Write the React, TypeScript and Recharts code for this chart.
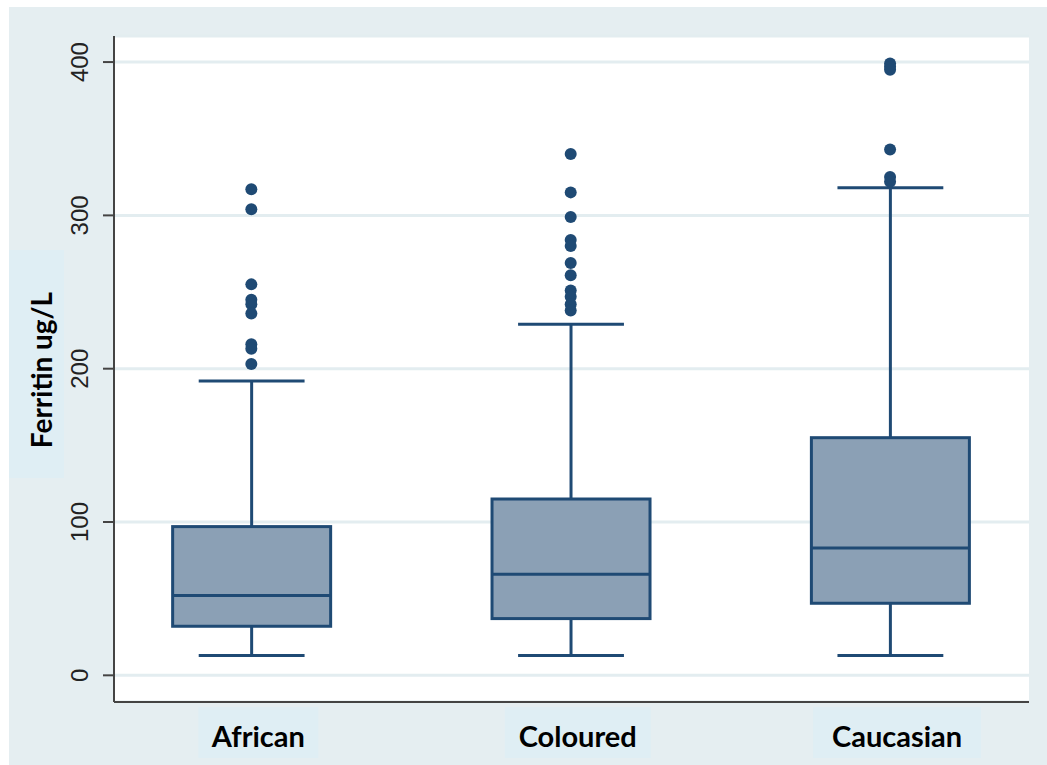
import React from "react";
import {
  ComposedChart,
  Bar,
  Scatter,
  XAxis,
  YAxis,
  CartesianGrid,
} from "recharts";

const categories = ["African", "Coloured", "Caucasian"];
const whiskerLow = [13, 13, 13];
const quartile1 = [32, 37, 47];
const medians = [52, 66, 83];
const quartile3 = [97, 115, 155];
const whiskerHigh = [192, 229, 318];

const africanOutliers = [317, 304, 255, 245, 242, 236, 216, 213, 203];
const colouredOutliers = [340, 315, 299, 284, 280, 269, 261, 251, 247, 242, 238];
const caucasianOutliers = [399, 397, 395, 343, 325, 322];

const yTicks = [0, 100, 200, 300, 400];

const rows = categories.map((name, i) => ({
  x: i + 1,
  name,
  min: whiskerLow[i],
  q1: quartile1[i],
  median: medians[i],
  q3: quartile3[i],
  max: whiskerHigh[i],
}));

const outliers = [africanOutliers, colouredOutliers, caucasianOutliers].flatMap(
  (vals, i) => vals.map((v) => ({ x: i + 1, y: v }))
);

const NAVY = "#1f4a74";
const FILL = "#8ba0b5";

const BoxShape = (props: any) => {
  const { x, y, width, height, payload } = props;
  const top = Math.min(y, y + height);
  const bottom = Math.max(y, y + height);
  const span = payload.max - payload.min;
  const pix = (v: number) => bottom - ((v - payload.min) / span) * (bottom - top);
  const cx = x + width / 2;
  const cap = width * 0.335;
  return (
    <g stroke={NAVY} strokeWidth={3}>
      <line x1={cx} x2={cx} y1={pix(payload.max)} y2={pix(payload.q3)} />
      <line x1={cx} x2={cx} y1={pix(payload.q1)} y2={pix(payload.min)} />
      <line x1={cx - cap} x2={cx + cap} y1={pix(payload.max)} y2={pix(payload.max)} />
      <line x1={cx - cap} x2={cx + cap} y1={pix(payload.min)} y2={pix(payload.min)} />
      <rect
        x={x}
        y={pix(payload.q3)}
        width={width}
        height={pix(payload.q1) - pix(payload.q3)}
        fill={FILL}
      />
      <line x1={x} x2={x + width} y1={pix(payload.median)} y2={pix(payload.median)} />
    </g>
  );
};

const YTick = (props: any) => {
  const { y, payload } = props;
  const px = 80;
  return (
    <text
      x={px}
      y={y}
      transform={`rotate(-90, ${px}, ${y})`}
      textAnchor="middle"
      dominantBaseline="central"
      fontFamily="'Liberation Sans', Arial, sans-serif"
      fontSize={24}
      fill="#222"
    >
      {payload.value}
    </text>
  );
};

const labelWidths: Record<string, number> = { African: 120, Coloured: 146, Caucasian: 168 };

const XTick = (props: any) => {
  const { x, payload } = props;
  const name = categories[payload.value - 1];
  if (!name) return null;
  const w = labelWidths[name] ?? 140;
  const cx = x + 7;
  return (
    <g>
      <rect x={cx - w / 2} y={707} width={w} height={51} fill="#dfeef4" />
      <text
        x={cx}
        y={735}
        textAnchor="middle"
        dominantBaseline="central"
        fontFamily="Lato, 'Open Sans', sans-serif"
        fontWeight={700}
        fontSize={29}
        fill="#000"
      >
        {name}
      </text>
    </g>
  );
};

const YTitle = () => (
  <g>
    <rect x={9} y={250} width={55} height={228} fill="#dfeef4" />
    <text
      x={41}
      y={370}
      transform="rotate(-90, 41, 370)"
      textAnchor="middle"
      dominantBaseline="central"
      fontFamily="Lato, 'Open Sans', sans-serif"
      fontWeight={700}
      fontSize={28}
      fill="#000"
    >
      Ferritin ug/L
    </text>
  </g>
);

const Dot = (props: any) => {
  const { cx, cy } = props;
  return <circle cx={cx} cy={cy} r={6} fill={NAVY} />;
};

export default function App() {
  return (
    <div style={{ position: "absolute", left: 0, top: 0, width: 1047, height: 765, background: "#fff" }}>
      <div
        style={{
          position: "absolute",
          left: 9,
          top: 7,
          width: 1038,
          height: 758,
          background: "#e5eef1",
        }}
      />
      <div style={{ position: "absolute", left: 0, top: 0 }}>
        <ComposedChart
          width={1047}
          height={765}
          data={rows}
          margin={{ top: 36, right: 18, left: 0, bottom: 0 }}
        >
          <CartesianGrid
            vertical={false}
            stroke="#e3edf0"
            strokeWidth={3}
            fill="#ffffff"
            fillOpacity={1}
          />
          <XAxis
            dataKey="x"
            type="number"
            domain={[0.57, 3.435]}
            ticks={[1, 2, 3]}
            allowDataOverflow
            height={63}
            tickLine={false}
            axisLine={{ stroke: "#444", strokeWidth: 2 }}
            tick={<XTick />}
          />
          <YAxis
            type="number"
            domain={[-17.4, 417]}
            ticks={yTicks}
            allowDataOverflow
            width={114}
            tickSize={11}
            tickLine={{ stroke: "#444", strokeWidth: 2 }}
            axisLine={{ stroke: "#444", strokeWidth: 2 }}
            tick={<YTick />}
            label={{ content: <YTitle /> }}
          />
          <Bar
            dataKey={(d: any) => [d.min, d.max]}
            barSize={158}
            shape={<BoxShape />}
            isAnimationActive={false}
          />
          <Scatter
            data={outliers}
            dataKey="y"
            shape={<Dot />}
            isAnimationActive={false}
          />
        </ComposedChart>
      </div>
    </div>
  );
}
